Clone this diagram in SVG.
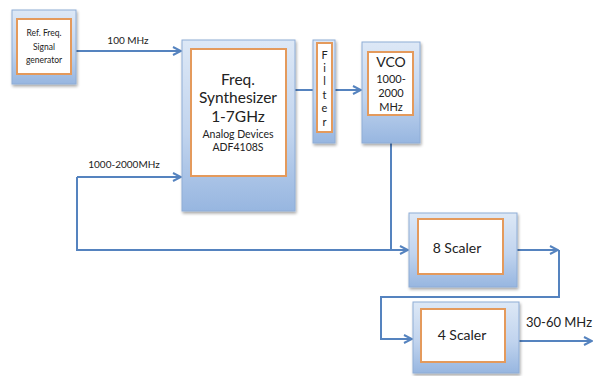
<svg xmlns="http://www.w3.org/2000/svg" width="593" height="376" viewBox="0 0 593 376">
  <style>
    .outer { fill: url(#blueGrad); stroke: #8fadd6; stroke-width: 1; filter: url(#shadow); }
    .inner { fill: #ffffff; stroke: #e49a5c; stroke-width: 2; }
    .wire { fill: none; stroke: #5583bf; stroke-width: 2; }
    .arrow { marker-end: url(#arrowHead); }
    text { font-family: Lato, "Open Sans", "Liberation Sans", sans-serif; fill: #222222; text-anchor: middle; }
    .lbl { font-size: 10px; }
  </style>
  <defs>
    <linearGradient id="blueGrad" x1="0" y1="0" x2="0" y2="1">
      <stop offset="0" stop-color="#dde8f6"/>
      <stop offset="0.55" stop-color="#c1d4ee"/>
      <stop offset="1" stop-color="#97b6e0"/>
    </linearGradient>
    <filter id="shadow" x="-10%" y="-10%" width="125%" height="125%">
      <feGaussianBlur in="SourceAlpha" stdDeviation="1.5"/>
      <feOffset dx="1" dy="2" result="off"/>
      <feComponentTransfer><feFuncA type="linear" slope="0.35"/></feComponentTransfer>
      <feMerge><feMergeNode/><feMergeNode in="SourceGraphic"/></feMerge>
    </filter>
    <marker id="arrowHead" viewBox="0 0 10 10" refX="9" refY="5" markerWidth="5" markerHeight="5" orient="auto" markerUnits="strokeWidth">
      <path d="M1 1 L9 5 L1 9" fill="none" stroke="#5583bf" stroke-width="2"/>
    </marker>
  </defs>

  <!-- connectors -->
  <g id="connectors">
    <path class="wire arrow" d="M76 51 H181"/>
    <path class="wire" d="M295 90 H313"/>
    <path class="wire arrow" d="M335 90 H361"/>
    <path class="wire" d="M391 143 V250"/>
    <path class="wire arrow" d="M77 177 H181"/>
    <path class="wire arrow" d="M77 177 V250 H408"/>
    <path class="wire arrow" d="M517 250 H558"/>
    <path class="wire arrow" d="M559 250 V297 H381 V339 H412"/>
    <path class="wire arrow" d="M519 341 H592"/>
    <text class="lbl" x="128" y="44">100 MHz</text>
    <text class="lbl" x="124" y="168">1000-2000MHz</text>
    <text x="559" y="327" font-size="13">30-60 MHz</text>
  </g>

  <!-- reference signal generator -->
  <g id="ref-gen">
    <rect class="outer" x="12" y="10" width="64" height="74"/>
    <rect class="inner" x="17" y="19" width="54" height="55"/>
    <text x="44" y="36" font-size="8.5">Ref. Freq.</text>
    <text x="44" y="50" font-size="8.5">Signal</text>
    <text x="44" y="63" font-size="8.5">generator</text>
  </g>

  <!-- frequency synthesizer -->
  <g id="synth">
    <rect class="outer" x="182" y="40" width="113" height="171"/>
    <rect class="inner" x="191" y="49" width="95" height="127"/>
    <text x="238" y="85" font-size="15.5">Freq.</text>
    <text x="238" y="103" font-size="15.5">Synthesizer</text>
    <text x="238" y="122" font-size="15.5">1-7GHz</text>
    <text x="238" y="138" font-size="10.5">Analog Devices</text>
    <text x="238" y="151" font-size="10.5">ADF4108S</text>
  </g>

  <!-- loop filter -->
  <g id="filter">
    <rect class="outer" x="313" y="40" width="22" height="103"/>
    <rect class="inner" x="317" y="43" width="15" height="89"/>
    <text x="324.5" y="59" font-size="11">F</text>
    <text x="324.5" y="72" font-size="11">i</text>
    <text x="324.5" y="85" font-size="11">l</text>
    <text x="324.5" y="99" font-size="11">t</text>
    <text x="324.5" y="112" font-size="11">e</text>
    <text x="324.5" y="126" font-size="11">r</text>
  </g>

  <!-- VCO -->
  <g id="vco">
    <rect class="outer" x="362" y="42" width="58" height="101"/>
    <rect class="inner" x="368" y="52" width="45" height="63"/>
    <text x="391" y="67" font-size="14">VCO</text>
    <text x="391" y="83" font-size="11">1000-</text>
    <text x="391" y="97" font-size="11">2000</text>
    <text x="391" y="111" font-size="11">MHz</text>
  </g>

  <!-- divide-by-8 prescaler -->
  <g id="scaler8">
    <rect class="outer" x="409" y="213" width="108" height="74"/>
    <rect class="inner" x="418" y="219" width="85" height="55"/>
    <text x="457" y="253" font-size="14">8 Scaler</text>
  </g>

  <!-- divide-by-4 prescaler -->
  <g id="scaler4">
    <rect class="outer" x="413" y="302" width="106" height="71"/>
    <rect class="inner" x="421" y="309" width="84" height="53"/>
    <text x="462" y="340" font-size="14">4 Scaler</text>
  </g>
</svg>
